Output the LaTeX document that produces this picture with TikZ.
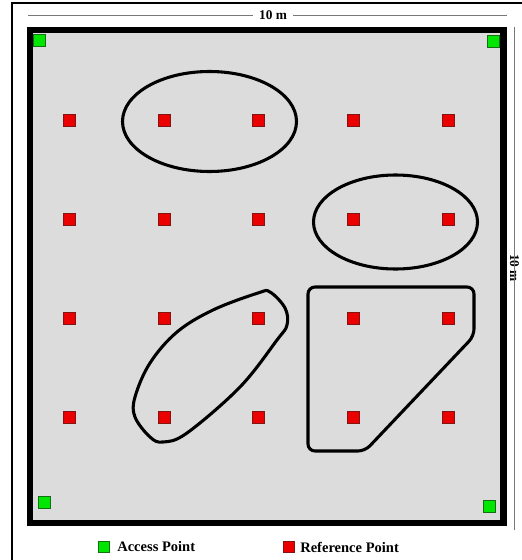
\documentclass[tikz,border=0pt]{standalone}
\usepackage{fontspec}
\setmainfont{Liberation Serif}
\definecolor{roomgray}{RGB}{220,220,220}
\definecolor{apgreen}{RGB}{0,230,0}
\definecolor{apedge}{RGB}{20,110,20}
\definecolor{rpred}{RGB}{235,0,0}
\definecolor{rpedge}{RGB}{130,20,20}
\definecolor{dimgray}{RGB}{120,120,120}
\tikzset{
  apbox/.style={draw=apedge, fill=apgreen, line width=0.6pt, minimum size=12*0.75pt, inner sep=0pt, outer sep=0pt},
  rpbox/.style={draw=rpedge, fill=rpred, line width=0.5pt, minimum size=12*0.75pt, inner sep=0pt, outer sep=0pt},
  zone/.style={draw=black, line width=2.3pt},
  dimline/.style={draw=dimgray, line width=0.7pt},
  dimtext/.style={font=\bfseries\fontsize{10}{12}\selectfont, inner sep=0pt},
  legtext/.style={font=\bfseries\fontsize{10.9}{13}\selectfont, anchor=west, inner sep=0pt}
}
\begin{document}
\begin{tikzpicture}[x=0.75pt,y=-0.75pt]
\useasboundingbox (0,0) rectangle (521,560);
\fill[white] (0,0) rectangle (521,560);
% outer frame
\draw[line width=1.3pt] (12,562) -- (12,3) -- (523,3);
% room
\filldraw[fill=roomgray, draw=black, line width=4.6pt] (30,30) rectangle (503.5,523);
% dimensions
\node[dimtext] (dtop) at (273,15) {10 m};
\coordinate (dtl) at (28,15);
\coordinate (dtr) at (507,15);
\draw[dimline] (dtl) -- ([xshift=-6*0.75pt]dtop.west);
\draw[dimline] ([xshift=6*0.75pt]dtop.east) -- (dtr);
\node[dimtext, rotate=-90] (dright) at (514.5,268) {10 m};
\coordinate (drt) at (514.5,27);
\coordinate (drb) at (514.5,530);
\draw[dimline] (drt) -- ([yshift=6*0.75pt]dright.east);
\draw[dimline] ([yshift=-6*0.75pt]dright.west) -- (drb);
% zones
\draw[zone] (209.5,121.5) ellipse [x radius=87, y radius=50];
\draw[zone] (395.5,222) ellipse [x radius=82, y radius=47];
\draw[zone] plot[smooth cycle, tension=0.6] coordinates {(258,293) (270,292) (285,308) (287,325) (277,340) (240,387) (187,433) (163,442) (150,437) (135,417) (135,397) (150,363) (177,332) (213,310)};
\draw[zone, rounded corners=7*0.75pt] (365,451) -- (308,451) -- (308,287) -- (474,287) -- (474,336) -- cycle;
% access points
\node[apbox] (ap1) at (39,40) {};
\node[apbox] (ap2) at (493,41) {};
\node[apbox] (ap3) at (44.5,502) {};
\node[apbox] (ap4) at (489.5,506) {};
% reference points
\foreach \r/\y in {1/120.5,2/219,3/318,4/417.5}{
  \foreach \c/\x in {1/69,2/164,3/258,4/353,5/448}{
    \node[rpbox] (rp\r\c) at (\x,\y) {};
  }
}
% legend
\node[apbox, minimum size=11*0.75pt] (legap) at (103.5,547) {};
\node[legtext] (legaptext) at (117,547) {Access Point};
\node[rpbox, minimum size=11*0.75pt] (legrp) at (288.5,547) {};
\node[legtext] (legrptext) at (300,547) {Reference Point};
\end{tikzpicture}
\end{document}
